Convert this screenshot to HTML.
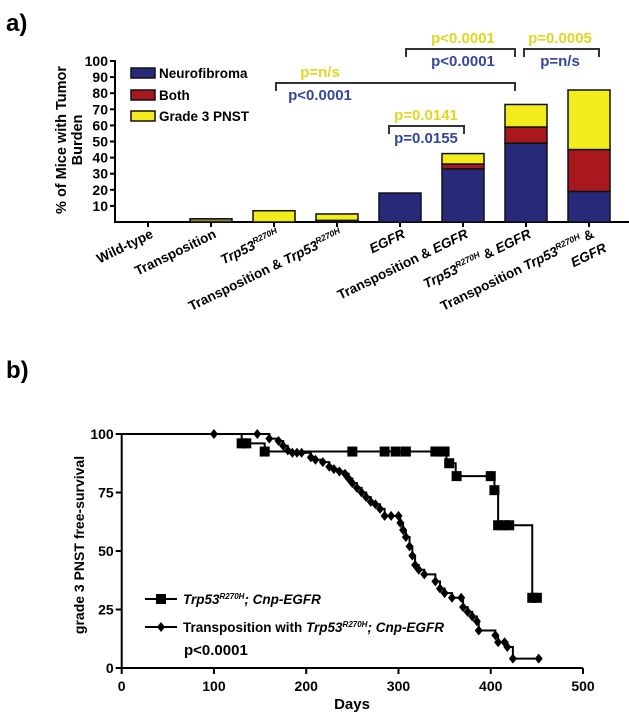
<!DOCTYPE html>
<html><head><meta charset="utf-8"><style>
html,body{margin:0;padding:0;background:#fff;}
svg{display:block;font-family:"Liberation Sans",sans-serif;font-weight:bold;}
</style></head><body>
<svg id="fig" width="629" height="719" viewBox="0 0 629 719">
<text x="6" y="31" font-size="24">a)</text>
<text x="6" y="378" font-size="24">b)</text>
<g id="pa"></g>
<g id="pb"></g>
</svg>
<script>
// ---------- Panel a data ----------
const categories = ["Wild-type","Transposition","Trp53R270H","Transposition & Trp53R270H","EGFR","Transposition & EGFR","Trp53R270H & EGFR","Transposition Trp53R270H & EGFR"];
const neurofibroma = [0, 0, 0, 1, 18, 33, 49, 19];
const both = [0, 0, 0, 0, 0, 3, 10, 26];
const grade3 = [0, 2, 7, 4, 0, 6.5, 14, 37];
const yTicksA = [10,20,30,40,50,60,70,80,90,100];
// ---------- Panel b data ----------
const xTicksB = [0,100,200,300,400,500];
const yTicksB = [0,25,50,75,100];
const sqSteps = [[0,100],[130,96],[155,92.5],[352,87.5],[362,82],[404,76],[408,61],[445,30],[452,30]];
const sqMarks = [[130,96],[135,96],[155,92.5],[250,92.5],[285,92.5],[297,92.5],[308,92.5],[340,92.5],[345,92.5],[350,92.5],[355,87.5],[363,82],[400,82],[404,76],[408,61],[415,61],[420,61],[445,30],[450,30]];
const dmSteps = [[0,100],[160,98],[170,97],[175,95],[180,93],[185,92],[205,90],[210,89],[218,88],[225,86],[230,85],[236,84],[242,83],[246,81],[250,79],[255,77],[260,75],[265,73],[270,71],[275,70],[280,68],[285,65],[302,62],[305,59],[308,56],[312,52],[315,48],[318,44],[322,42],[328,40],[340,37],[345,34],[350,32],[358,30],[370,26],[375,24],[380,22],[385,20],[387,16],[405,14],[408,11],[418,9],[424,4],[452,4]];
const dmMarks = [[100,100],[147,100],[160,98],[170,97],[175,95],[180,93],[185,92],[190,92],[195,92],[205,90],[210,89],[218,88],[225,86],[230,85],[236,84],[242,83],[246,81],[250,79],[255,77],[260,75],[265,73],[270,71],[275,70],[280,68],[285,65],[292,65],[300,65],[302,62],[305,59],[308,56],[312,52],[315,48],[318,44],[322,42],[328,40],[340,37],[345,34],[350,32],[358,30],[368,30],[370,26],[375,24],[380,22],[385,20],[387,16],[405,14],[408,11],[415,11],[418,9],[424,4],[452,4]];

const NS="http://www.w3.org/2000/svg";
function mk(parent,tag,attrs){const e=document.createElementNS(NS,tag);for(const k in attrs)e.setAttribute(k,attrs[k]);parent.appendChild(e);return e;}

// ---------- Panel a ----------
const pa=document.getElementById('pa');
const ax0=115, ay0=222, ayScale=1.61;
const ya=v=>ay0-v*ayScale;
const xa=i=>148+63*i;
const BW=42;
const NAVY="#262a78", RED="#a8181c", YEL="#f2ec1c";
let ln=mk(pa,'line',{x1:ax0,y1:ya(100)-1,x2:ax0,y2:ay0,stroke:'#000','stroke-width':2});


ln=mk(pa,'line',{x1:ax0-1,y1:ay0,x2:629,y2:ay0,stroke:'#000','stroke-width':2});


yTicksA.forEach(v=>{
  mk(pa,'line',{x1:ax0-5,y1:ya(v),x2:ax0,y2:ya(v),stroke:'#000','stroke-width':2});
  const t=mk(pa,'text',{x:ax0-7,y:ya(v)+5,'font-size':14,'text-anchor':'end'});
  t.textContent=v;
  
  
});
const yt=mk(pa,'text',{transform:'translate(66,140) rotate(-90)','font-size':14.5,'text-anchor':'middle'});


yt.innerHTML='<tspan x="0" y="0">% of Mice with Tumor</tspan><tspan x="0" y="16">Burden</tspan>';
categories.forEach((c,i)=>{
  const cx=xa(i);
  mk(pa,'line',{x1:cx,y1:ay0,x2:cx,y2:ay0+5,stroke:'#000','stroke-width':2});
  const segs=[[neurofibroma[i],NAVY,'neurofibroma'],[both[i],RED,'both'],[grade3[i],i==1?'#8c8a3c':YEL,'grade3']];
  let base=0;
  segs.forEach(s=>{
    if(s[0]>0){
      const r=mk(pa,'rect',{x:cx-BW/2,y:ya(base+s[0]),width:BW,height:s[0]*ayScale,fill:s[1],stroke:'#111','stroke-width':1.5});
      
      
    }
    base+=s[0];
  });
  const t=mk(pa,'text',{transform:`translate(${cx+6},${ay0+15}) rotate(-26)`,'font-size':13.5,'text-anchor':'end'});
  
  
  const sup='<tspan font-style="italic">Trp53</tspan><tspan font-size="8.5" font-style="italic" dy="-5">R270H</tspan><tspan dy="5"> </tspan>';
  const supEnd=sup.replace('<tspan dy="5"> </tspan>','<tspan dy="5"></tspan>');
  let h;
  if(c==="Trp53R270H") h=supEnd;
  else if(c==="Transposition & Trp53R270H") h='Transposition &amp; '+supEnd;
  else if(c==="EGFR") h='<tspan font-style="italic">EGFR</tspan>';
  else if(c==="Transposition & EGFR") h='Transposition &amp; <tspan font-style="italic">EGFR</tspan>';
  else if(c==="Trp53R270H & EGFR") h=sup+'&amp; <tspan font-style="italic">EGFR</tspan>';
  else if(c==="Transposition Trp53R270H & EGFR") h='<tspan x="0" y="0">Transposition </tspan>'+sup+'<tspan>&amp;</tspan><tspan x="5" y="18" font-style="italic">EGFR</tspan>';
  else h=c;
  t.innerHTML=h;
});
// legend a
[["Neurofibroma",NAVY,73],["Both",RED,95],["Grade 3 PNST",YEL,116]].forEach(l=>{
  const r=mk(pa,'rect',{x:131,y:l[2]-5,width:24,height:10,fill:l[1],stroke:'#111','stroke-width':1.5});
  
  
  const t=mk(pa,'text',{x:159,y:l[2]+5,'font-size':13.5});
  t.textContent=l[0];
  
  
});
// brackets
const BY="#e2d622", BB="#34479a";
function bracket(x1,x2,y,yel,blue,ty,by,tx,anchor){
  const p=mk(pa,'path',{d:`M${x1},${y+8}V${y}H${x2}V${y+8}`,fill:'none',stroke:'#333','stroke-width':2});
  
  
  const a=mk(pa,'text',{x:tx[0],y:ty,'font-size':15,fill:BY,'text-anchor':anchor});
  a.textContent=yel;
  
  
  const b=mk(pa,'text',{x:tx[1],y:by,'font-size':15,fill:BB,'text-anchor':anchor});
  b.textContent=blue;
  
  
}
bracket(389,464,126,"p=0.0141","p=0.0155",120,143,[426,426],'middle');
bracket(276,515,83,"p=n/s","p<0.0001",77,100,[320,320],'middle');
bracket(406,515,49,"p<0.0001","p<0.0001",43,66,[463,463],'middle');
bracket(524,599,49,"p=0.0005","p=n/s",43,66,[560,560],'middle');

// ---------- Panel b ----------
const pb=document.getElementById('pb');
const xb=d=>121.7+d*0.9226;
const yb=s=>668-s*2.34;
ln=mk(pb,'line',{x1:xb(0),y1:yb(100),x2:xb(0),y2:yb(0)+1,stroke:'#000','stroke-width':2});


ln=mk(pb,'line',{x1:xb(0)-1,y1:yb(0),x2:xb(500),y2:yb(0),stroke:'#000','stroke-width':2});


yTicksB.forEach(v=>{
  mk(pb,'line',{x1:xb(0)-6,y1:yb(v),x2:xb(0),y2:yb(v),stroke:'#000','stroke-width':2});
  const t=mk(pb,'text',{x:xb(0)-8,y:yb(v)+5,'font-size':14,'text-anchor':'end'});
  t.textContent=v;
  
  
});
xTicksB.forEach(v=>{
  mk(pb,'line',{x1:xb(v),y1:yb(0),x2:xb(v),y2:yb(0)+6,stroke:'#000','stroke-width':2});
  const t=mk(pb,'text',{x:xb(v),y:691,'font-size':14,'text-anchor':'middle'});
  t.textContent=v;
  
  
});
let t=mk(pb,'text',{x:352,y:709,'font-size':15,'text-anchor':'middle'});
t.textContent='Days';


t=mk(pb,'text',{transform:'translate(84,545) rotate(-90)','font-size':14,'text-anchor':'middle'});
t.textContent='grade 3 PNST free-survival';


function stepPath(steps){
  let d=`M${xb(steps[0][0])},${yb(steps[0][1])}`;
  for(let i=1;i<steps.length;i++){d+=`H${xb(steps[i][0])}V${yb(steps[i][1])}`;}
  return d;
}
function square(g,x,y){mk(g,'rect',{x:x-5,y:y-5,width:10,height:10,fill:'#000'});}
function diamond(g,x,y){mk(g,'path',{d:`M${x},${y-5}L${x+4},${y}L${x},${y+5}L${x-4},${y}Z`,fill:'#000'});}
const gs=mk(pb,'g',{});


mk(gs,'path',{d:stepPath(sqSteps),fill:'none',stroke:'#000','stroke-width':2});
sqMarks.forEach(m=>square(gs,xb(m[0]),yb(m[1])));
const gd=mk(pb,'g',{});


mk(gd,'path',{d:stepPath(dmSteps),fill:'none',stroke:'#000','stroke-width':2});
dmMarks.forEach(m=>diamond(gd,xb(m[0]),yb(m[1])));
// legend b
const l1=mk(pb,'g',{});


mk(l1,'line',{x1:145,y1:599,x2:177,y2:599,stroke:'#000','stroke-width':2});
square(l1,161,599);
t=mk(l1,'text',{x:183,y:604,'font-size':13.5,'font-style':'italic'});
t.innerHTML='Trp53<tspan font-size="8" dy="-5">R270H</tspan><tspan dy="5">; Cnp-EGFR</tspan>';
const l2=mk(pb,'g',{});


mk(l2,'line',{x1:145,y1:627,x2:177,y2:627,stroke:'#000','stroke-width':2});
diamond(l2,161,627);
t=mk(l2,'text',{x:183,y:632,'font-size':13.5});
t.innerHTML='Transposition with <tspan font-style="italic">Trp53</tspan><tspan font-size="8" font-style="italic" dy="-5">R270H</tspan><tspan dy="5" font-style="italic">; Cnp-EGFR</tspan>';
t=mk(pb,'text',{x:184,y:655,'font-size':15});
t.textContent='p<0.0001';


</script>
</body></html>
